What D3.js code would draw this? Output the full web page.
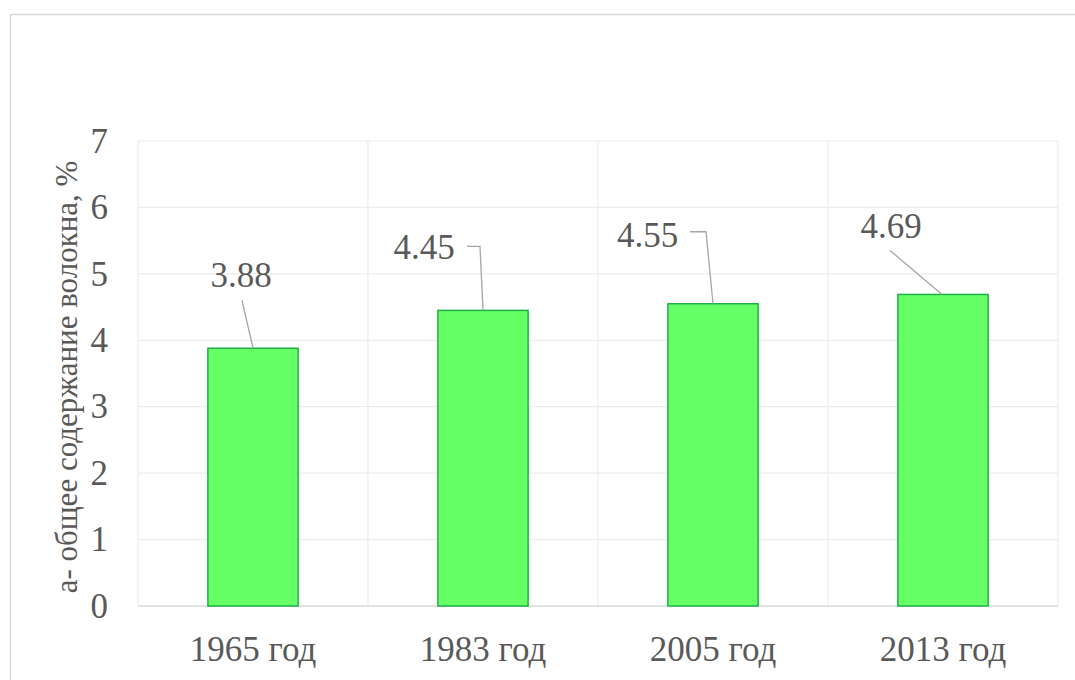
<!DOCTYPE html>
<html>
<head>
<meta charset="utf-8">
<script src="https://cdn.jsdelivr.net/npm/d3@7"></script>
<style>
  html, body { margin: 0; padding: 0; background: #fff; }
  svg { display: block; }
</style>
</head>
<body>
<svg id="chart" width="1075" height="680"></svg>
<script>
// ---- data ----
const categories = ["1965 год", "1983 год", "2005 год", "2013 год"];
const values = [3.88, 4.45, 4.55, 4.69];
const valueLabels = ["3.88", "4.45", "4.55", "4.69"];
const yTicks = [0, 1, 2, 3, 4, 5, 6, 7];
const yTitle = "а- общее содержание волокна, %";

// ---- layout (label placement relative to bar top centre) ----
const labelOffsets = [[-12, -61], [-59, -51], [-65.5, -57], [-52, -56]];
const leaderPaths = [
  [[-11, -48], [0, 0]],
  [[-16, -64], [-3, -64], [0, 0]],
  [[-23, -72], [-7, -72], [0, 0]],
  [[-53, -44], [-1, 0]]
];

const svg = d3.select("#chart");
const W = 1075, H = 680;
const margin = { left: 138, right: 17, top: 141, bottom: 74 };
const plotW = W - margin.left - margin.right;
const plotH = H - margin.top - margin.bottom;
const font = "Liberation Serif";
const textColor = "#595959";
const fs = 35;

// outer chart border
svg.append("path")
  .attr("d", `M10.5,${H} L10.5,14.5 L${W},14.5`)
  .attr("fill", "none").attr("stroke", "#d9d9d9").attr("stroke-width", 1.5);

const x = d3.scaleBand().domain(categories).range([0, plotW]).paddingInner(0).paddingOuter(0);
const y = d3.scaleLinear().domain([0, 7]).range([plotH, 0]);

const g = svg.append("g").attr("transform", `translate(${margin.left},${margin.top})`);

// horizontal gridlines
g.append("g").selectAll("line").data(yTicks.filter(d => d > 0)).join("line")
  .attr("x1", 0).attr("x2", plotW)
  .attr("y1", d => y(d)).attr("y2", d => y(d))
  .attr("stroke", "#ececec").attr("stroke-width", 1.2);

// vertical gridlines at category boundaries
const bounds = categories.map(c => x(c)).concat([plotW]);
g.append("g").selectAll("line").data(bounds).join("line")
  .attr("x1", d => d).attr("x2", d => d)
  .attr("y1", 0).attr("y2", plotH)
  .attr("stroke", "#ececec").attr("stroke-width", 1.2);

// baseline
g.append("line").attr("x1", 0).attr("x2", plotW).attr("y1", y(0)).attr("y2", y(0))
  .attr("stroke", "#d9d9d9").attr("stroke-width", 1.5);

// bars
const barW = x.bandwidth() / 2.55;
g.append("g").selectAll("rect").data(values).join("rect")
  .attr("x", (d, i) => x(categories[i]) + x.bandwidth() / 2 - barW / 2)
  .attr("y", d => y(d))
  .attr("width", barW)
  .attr("height", d => y(0) - y(d))
  .attr("fill", "#66ff66")
  .attr("stroke", "#1db04a")
  .attr("stroke-width", 1.5);

// y axis tick labels
const yAxis = d3.axisLeft(y).tickValues(yTicks).tickSize(0).tickPadding(30).tickFormat(d3.format("d"));
const ya = g.append("g").call(yAxis);
ya.attr("font-family", null);
ya.select(".domain").remove();
ya.selectAll("text").style("font-family", font).style("font-size", fs + "px").attr("fill", textColor);

// x axis labels
const xAxis = d3.axisBottom(x).tickSize(0).tickPadding(30);
const xa = g.append("g").attr("transform", `translate(0,${plotH})`).call(xAxis);
xa.attr("font-family", null);
xa.select(".domain").remove();
xa.selectAll("text").style("font-family", font).style("font-size", fs + "px").attr("fill", textColor);

// y title
svg.append("text")
  .attr("transform", `translate(77,377) rotate(-90)`)
  .attr("text-anchor", "middle")
  .style("font-family", font).style("font-size", "31px").attr("fill", textColor)
  .text(yTitle);

// leader lines and value labels
values.forEach((v, i) => {
  const cx = x(categories[i]) + x.bandwidth() / 2;
  const top = y(v);
  const pts = leaderPaths[i].map(p => [cx + p[0], top + p[1]]);
  g.append("path")
    .attr("d", d3.line()(pts))
    .attr("fill", "none").attr("stroke", "#a6a6a6").attr("stroke-width", 1.3);
  g.append("text")
    .attr("x", cx + labelOffsets[i][0])
    .attr("y", top + labelOffsets[i][1])
    .attr("text-anchor", "middle")
    .style("font-family", font).style("font-size", fs + "px").attr("fill", textColor)
    .text(valueLabels[i]);
});
</script>
</body>
</html>
